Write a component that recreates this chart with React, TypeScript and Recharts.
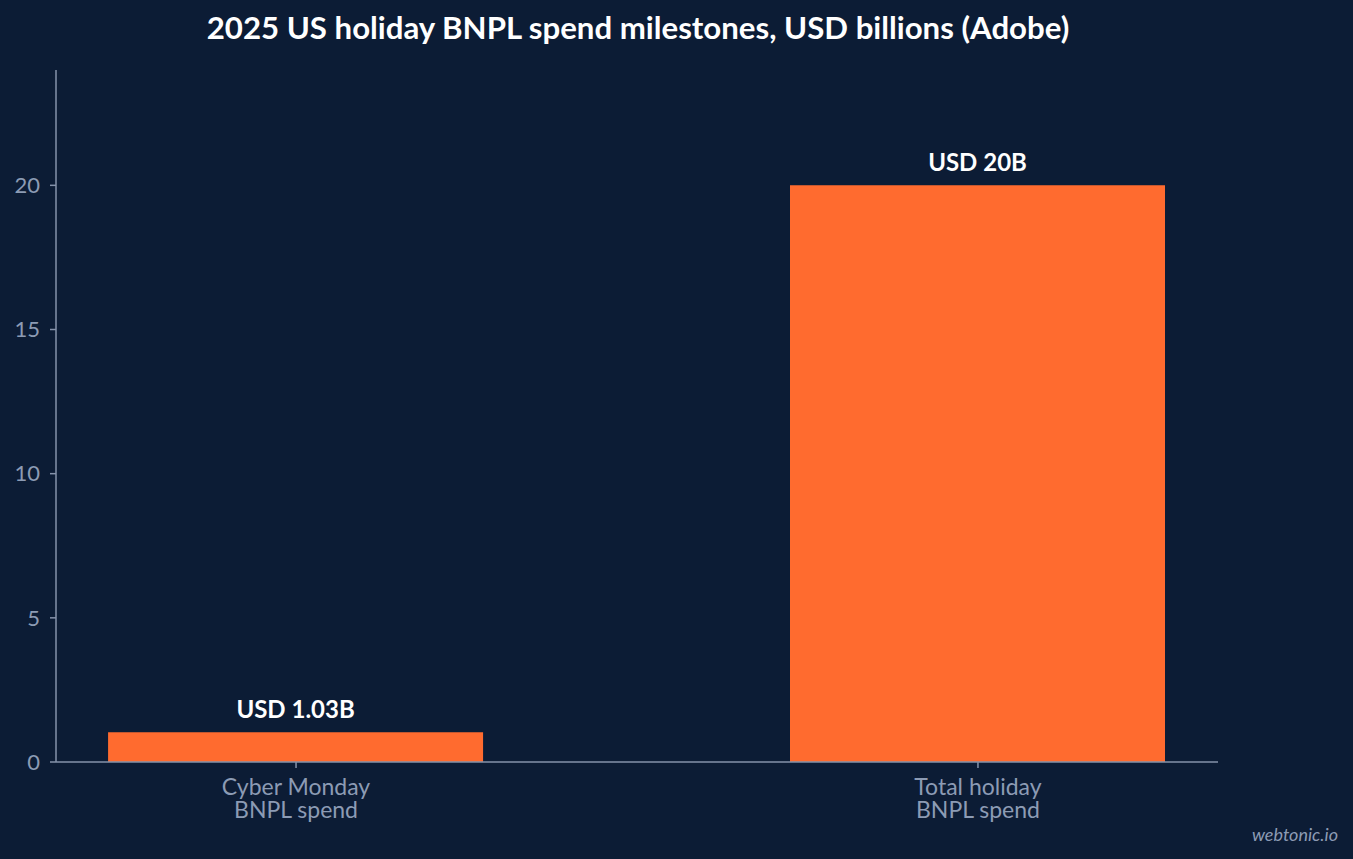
import React from "react";
import { BarChart, Bar, XAxis, YAxis, LabelList } from "recharts";

const categories = ["Cyber Monday\nBNPL spend", "Total holiday\nBNPL spend"];
const values = [1.03, 20];
const valueLabels = ["USD 1.03B", "USD 20B"];
const yTicks = [0, 5, 10, 15, 20];

const data = categories.map((c, i) => ({ x: i, name: c, value: values[i], label: valueLabels[i] }));

const BG = "#0c1c35";
const BAR = "#ff6b2f";
const AXIS = "#8592aa";
const TICK = "#8c9bb4";
const FONT = "Lato, 'DejaVu Sans', sans-serif";

const XTick = (props: any) => {
  const { x, y, payload } = props;
  const lines = String(categories[payload.value] ?? "").split("\n");
  return (
    <g>
      {lines.map((l, i) => (
        <text
          key={i}
          x={x}
          y={y + 25 + i * 23}
          textAnchor="middle"
          fill={TICK}
          fontSize={23}
          fontFamily={FONT}
        >
          {l}
        </text>
      ))}
    </g>
  );
};

export default function App() {
  return (
    <div style={{ position: "fixed", left: 0, top: 0, width: 1353, height: 859, background: BG }}>
      <BarChart
        width={1353}
        height={859}
        data={data}
        margin={{ top: 70, right: 135, bottom: 0, left: 0 }}
      >
        <XAxis
          type="number"
          dataKey="x"
          domain={[-0.352, 1.352]}
          ticks={[0, 1]}
          allowDataOverflow
          height={97}
          stroke={AXIS}
          strokeWidth={1.5}
          tickSize={6}
          tick={<XTick />}
        />
        <YAxis
          type="number"
          domain={[0, 24]}
          ticks={yTicks}
          width={56}
          stroke={AXIS}
          strokeWidth={1.5}
          tickSize={6}
          tickMargin={10}
          tick={{ fill: TICK, fontSize: 22, fontFamily: FONT }}
        />
        <Bar dataKey="value" fill={BAR} barSize={375} isAnimationActive={false}>
          <LabelList
            dataKey="label"
            position="top"
            offset={14}
            fill="#ffffff"
            fontSize={24}
            fontWeight={700}
            fontFamily={FONT}
          />
        </Bar>
      </BarChart>
      <svg
        width={1353}
        height={859}
        style={{ position: "absolute", left: 0, top: 0, pointerEvents: "none" }}
      >
        <text x={638} y={38.5} textAnchor="middle" fill="#ffffff" fontSize={31.2} fontWeight={700} fontFamily={FONT}>
          2025 US holiday BNPL spend milestones, USD billions (Adobe)
        </text>
        <text x={1338} y={841} textAnchor="end" fill={TICK} fontSize={18} fontStyle="italic" fontFamily={FONT}>
          webtonic.io
        </text>
      </svg>
    </div>
  );
}
